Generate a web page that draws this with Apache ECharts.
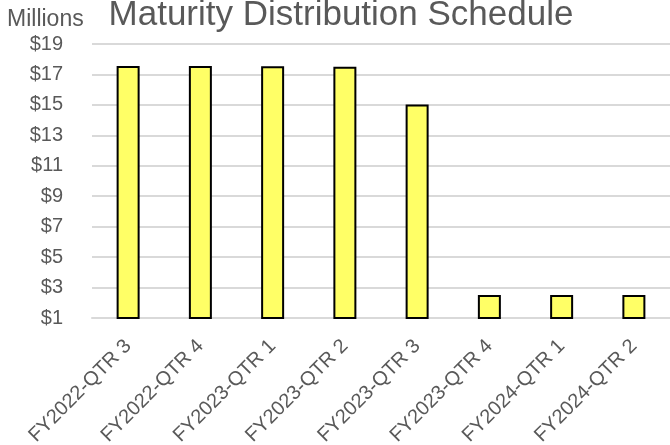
<!DOCTYPE html>
<html>
<head>
<meta charset="utf-8">
<script src="https://cdn.jsdelivr.net/npm/echarts@6/dist/echarts.min.js"></script>
<style>
  html, body { margin: 0; padding: 0; background: #fff; }
  #chart { width: 670px; height: 445px; }
</style>
</head>
<body>
<div id="chart"></div>
<script>
// quarters and maturing amounts (millions of dollars)
const quarters = [
  'FY2022-QTR 3',
  'FY2022-QTR 4',
  'FY2023-QTR 1',
  'FY2023-QTR 2',
  'FY2023-QTR 3',
  'FY2023-QTR 4',
  'FY2024-QTR 1',
  'FY2024-QTR 2'
]
const amounts = [17.56, 17.56, 17.54, 17.51, 15.03, 2.51, 2.51, 2.51]
const yTicks = { min: 1, max: 19, step: 2 }

const font = 'Liberation Sans, Arial, sans-serif'
const grey = '#595959'

const chart = echarts.init(document.getElementById('chart'))
chart.setOption({
  animation: false,
  title: {
    text: 'Maturity Distribution Schedule',
    left: 336,
    textAlign: 'center',
    top: -7,
    textStyle: { fontFamily: font, fontSize: 35, fontWeight: 'normal', color: grey }
  },
  graphic: [
    {
      type: 'text',
      left: 7,
      top: 8,
      style: { text: 'Millions', fontFamily: font, fontSize: 23, fill: grey }
    }
  ],
  grid: { left: 92, right: 0, top: 44, bottom: 127, outerBoundsMode: 'none' },
  xAxis: {
    type: 'category',
    data: quarters,
    axisLine: { lineStyle: { color: '#d9d9d9', width: 2 } },
    axisTick: { show: false },
    axisLabel: {
      rotate: 45,
      margin: 25,
      interval: 0,
      fontFamily: font,
      fontSize: 20,
      color: grey
    }
  },
  yAxis: {
    type: 'value',
    min: yTicks.min,
    max: yTicks.max,
    interval: yTicks.step,
    axisLine: { show: false },
    axisTick: { show: false },
    splitLine: { lineStyle: { color: '#d9d9d9', width: 2 } },
    axisLabel: {
      margin: 29,
      fontFamily: font,
      fontSize: 20,
      color: grey,
      formatter: v => '$' + v
    }
  },
  series: [
    {
      type: 'bar',
      data: amounts,
      barWidth: 23,
      itemStyle: { color: '#ffff66', borderColor: '#000', borderWidth: 2 }
    }
  ]
})
</script>
</body>
</html>
